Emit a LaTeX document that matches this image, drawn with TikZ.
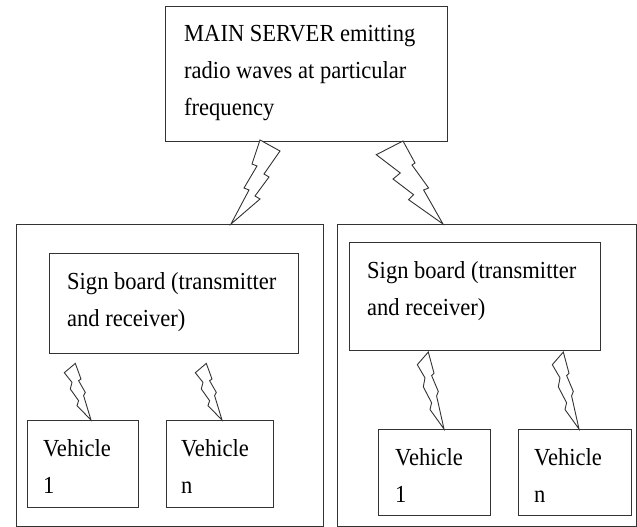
\documentclass[tikz,border=0pt]{standalone}
\usepackage{fontspec}
\setmainfont[FakeStretch=0.92]{Liberation Serif}
\usetikzlibrary{calc}
\tikzset{
  box/.style={draw=black!80, line width=1.3pt, inner sep=0pt, anchor=north west, fill=none},
  txt/.style={font=\fontsize{24.5}{37}\selectfont, align=left, inner sep=0pt, anchor=north west, text=black},
  bolt/.style={draw=black!80, line width=0.9pt, line join=miter, fill=white}
}
\newcommand{\smallbolt}[2]{%
  \draw[bolt, shift={(#1)}, yscale=#2] (-26.7,-47.3) -- (-19,-37.6) -- (-20.7,-31) -- (-12.4,-19.3) -- (-14,-14.3) -- (0,0)
     -- (-7.4,-24.3) -- (-5.7,-27.6) -- (-12.4,-39.3) -- (-10,-41) -- (-15.7,-56.6) -- cycle;}
\begin{document}
\begin{tikzpicture}[x=1pt,y=-1pt]
\useasboundingbox[fill=white] (0,0) rectangle (637,527);
% boxes
\node[box, minimum width=282pt, minimum height=135pt] (ms) at (165,6) {};
\node[box, minimum width=307pt, minimum height=302pt] (lo) at (16,224) {};
\node[box, minimum width=299pt, minimum height=302pt] (ro) at (337,224) {};
\node[box, minimum width=249pt, minimum height=100pt] (ls) at (49,253) {};
\node[box, minimum width=251pt, minimum height=108pt] (rs) at (349,242) {};
\node[box, minimum width=111pt, minimum height=87pt] (lv1) at (27,420) {};
\node[box, minimum width=107pt, minimum height=87pt] (lvn) at (166,420) {};
\node[box, minimum width=112pt, minimum height=86pt] (rv1) at (378,429) {};
\node[box, minimum width=113pt, minimum height=86pt] (rvn) at (518,429) {};
% texts
\node[txt] (mst) at ($(ms.north west)+(19,19.3)$) {MAIN SERVER emitting\\radio waves at particular\\frequency};
\node[txt] (lst) at ($(ls.north west)+(18,19)$) {Sign board (transmitter\\and receiver)};
\node[txt] (rst) at ($(rs.north west)+(18,19)$) {Sign board (transmitter\\and receiver)};
\node[txt] (lv1t) at ($(lv1.north west)+(16,19.3)$) {Vehicle\\1};
\node[txt] (lvnt) at ($(lvn.north west)+(15,19.3)$) {Vehicle\\n};
\node[txt] (rv1t) at ($(rv1.north west)+(17,19.3)$) {Vehicle\\1};
\node[txt] (rvnt) at ($(rvn.north west)+(16,19.3)$) {Vehicle\\n};
% big bolts
\coordinate (b1) at ($(lo.north west)+(215,0)$);
\coordinate (b2) at ($(ro.north west)+(106,0)$);
\draw[bolt, shift={(b1)}] (29,-84) -- (21,-60) -- (26,-58) -- (13,-36) -- (18,-34) -- (0,0)
   -- (29,-25) -- (24,-28) -- (38,-47) -- (33,-50) -- (49,-73) -- cycle;
\draw[bolt, shift={(b2)}] (-40,-83) -- (-28,-61) -- (-31,-59) -- (-14.4,-36) -- (-19.4,-34) -- (0,0)
   -- (-34.4,-24.3) -- (-29.4,-29.3) -- (-50,-45) -- (-42.7,-51) -- (-66.7,-69.3) -- cycle;
% small bolts
\coordinate (s1) at ($(lv1.north west)+(64,0)$);
\coordinate (s2) at ($(lvn.north west)+(56,0)$);
\coordinate (s3) at ($(rv1.north west)+(66,0)$);
\coordinate (s4) at ($(rvn.north west)+(61,0)$);
\smallbolt{s1}{1}
\smallbolt{s2}{1}
\smallbolt{s3}{1.36}
\smallbolt{s4}{1.36}
\end{tikzpicture}
\end{document}
